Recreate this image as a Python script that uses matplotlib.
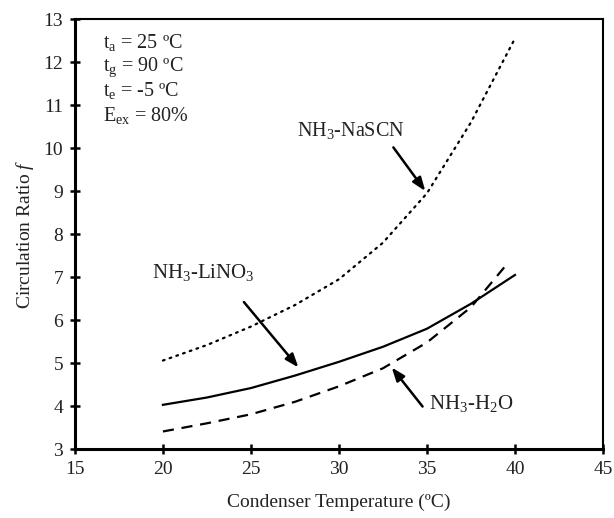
import numpy as np
import matplotlib
matplotlib.use("Agg")
import matplotlib.pyplot as plt

plt.rcParams['font.family'] = ['Liberation Serif', 'DejaVu Serif']
plt.rcParams['mathtext.fontset'] = 'custom'
plt.rcParams['mathtext.rm'] = 'Liberation Serif'
plt.rcParams['mathtext.it'] = 'Liberation Serif:italic'

# values
temp_nascn = [20, 22.5, 25, 27.5, 30, 32.5, 35, 37.5, 40]
ratio_nascn = [5.06, 5.42, 5.85, 6.35, 6.95, 7.8, 8.95, 10.6, 12.55]

temp_lino3 = [20, 22.5, 25, 27.5, 30, 32.5, 35, 37.5, 40]
ratio_lino3 = [4.03, 4.2, 4.42, 4.71, 5.03, 5.38, 5.8, 6.38, 7.05]

temp_h2o = [20, 22.5, 25, 27.5, 30, 32.5, 35, 37.5, 39.5]
ratio_h2o = [3.41, 3.6, 3.81, 4.1, 4.46, 4.88, 5.48, 6.3, 7.28]

x_ticks = [15, 20, 25, 30, 35, 40, 45]
y_ticks = [3, 4, 5, 6, 7, 8, 9, 10, 11, 12, 13]

txt = '#222222'

fig = plt.figure(figsize=(6.14, 5.18), dpi=100)
ax = fig.add_axes([0.122, 0.133, 0.860, 0.830])

ax.plot(temp_nascn, ratio_nascn, color='black', lw=1.6, linestyle=(0, (0.8, 2.4)),
        dash_capstyle='round')
ax.plot(temp_lino3, ratio_lino3, color='black', lw=1.6)
ax.plot(temp_h2o, ratio_h2o, color='black', lw=1.6, linestyle=(0, (5, 3.5)))

ax.set_xlim(15, 45)
ax.set_ylim(3, 13)
ax.set_xticks(x_ticks)
ax.set_yticks(y_ticks)
ax.tick_params(direction='inout', length=7, width=1.8, labelsize=14,
               labelcolor=txt, pad=5)

for s in ['left', 'bottom']:
    ax.spines[s].set_linewidth(2.2)
for s in ['top', 'right']:
    ax.spines[s].set_linewidth(1.5)

ax.set_xlabel('Condenser Temperature (ºC)', fontsize=14, color=txt, labelpad=11)
ax.set_ylabel('Circulation Ratio $\\mathit{f}$', fontsize=14, color=txt, labelpad=5)

# conditions text
cond = ['t$_\\mathrm{a}$ = 25 ºC', 't$_\\mathrm{g}$ = 90 ºC',
        't$_\\mathrm{e}$ = -5 ºC', 'E$_\\mathrm{ex}$ = 80%']
for i, line in enumerate(cond):
    ax.text(16.6, 12.45 - i * 0.56, line, fontsize=14.5, color=txt, va='center')

arrow = dict(arrowstyle='-|>,head_length=0.8,head_width=0.3', color='black', lw=1.8)
ax.annotate('NH$_3$-NaSCN', xy=(27.6, 10.42), fontsize=14.5, color=txt,
            va='center', ha='left')
ax.annotate('', xy=(35.0, 8.95), xytext=(33.0, 10.07), arrowprops=arrow)

ax.annotate('NH$_3$-LiNO$_3$', xy=(19.4, 7.1), fontsize=15, color=txt,
            va='center', ha='left')
ax.annotate('', xy=(27.8, 4.85), xytext=(24.5, 6.47), arrowprops=arrow)

ax.annotate('NH$_3$-H$_2$O', xy=(35.1, 4.05), fontsize=15, color=txt,
            va='center', ha='left')
ax.annotate('', xy=(32.9, 4.95), xytext=(34.85, 3.94), arrowprops=arrow)

fig.savefig('out.png', dpi=100)
